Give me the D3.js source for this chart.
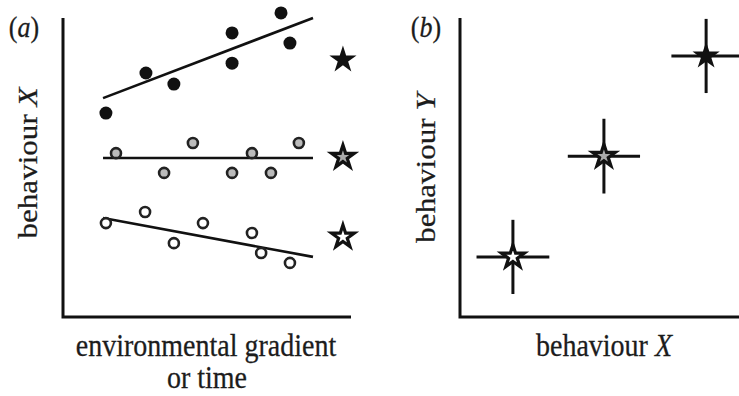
<!DOCTYPE html>
<html>
<head>
<meta charset="utf-8">
<script src="https://cdn.jsdelivr.net/npm/d3@7"></script>
<style>
  body { margin: 0; background: #fff; }
  text { font-family: "Liberation Serif", "Times New Roman", serif; fill: #1c1c1c; stroke: #1c1c1c; stroke-width: 0.25px; }
</style>
</head>
<body>
<script>
const width = 739, height = 396;

// panel (a): three groups of individuals along a gradient
const filledPts = [[14.9, 68.2], [28.8, 81.6], [38.5, 77.9], [58.7, 95.0], [58.7, 84.9], [75.7, 101.7], [78.8, 91.6]];
const greyPts   = [[18.4, 54.8], [45.1, 58.2], [35.1, 48.2], [58.7, 48.2], [65.6, 54.8], [72.2, 48.2], [81.9, 58.2]];
const openPts   = [[14.9, 31.4], [28.5, 35.1], [38.5, 24.7], [48.6, 31.4], [65.6, 28.1], [68.8, 21.4], [78.8, 18.1]];
// trend lines [x0, y0, x1, y1]
const trendLines = [[13.9, 73.2, 86.8, 100], [13.9, 53.2, 86.8, 53.2], [13.9, 33.1, 86.8, 20.1]];
const groupStars = [[97.2, 86, "filled"], [97.2, 53.5, "grey"], [97.2, 26.8, "open"]];

// panel (b): group means with error bars
const meanX = [18.9, 51.4, 87.9];
const meanY = [20.1, 53.8, 87.3];
const errX  = [13, 12.9, 12.4];
const errY  = [12.4, 12.5, 12.4];
const meanKind = ["open", "grey", "filled"];

const fills = { filled: "#111", grey: "#aaa", open: "#fff" };
const stretch = 1.11; // text in the figure is a little taller than wide

const svg = d3.select("body").append("svg")
  .attr("width", width)
  .attr("height", height);

const yScale = d3.scaleLinear().domain([0, 100]).range([317, 18]);
const xA = d3.scaleLinear().domain([0, 100]).range([63, 351]);
const xB = d3.scaleLinear().domain([0, 100]).range([460, 740]);

const star = d3.symbol().type(d3.symbolStar);

// axes as plain L shapes
function axisL(x0, x1) {
  svg.append("path")
    .attr("d", `M${x0},${yScale(100)}V${yScale(0)}H${x1}`)
    .attr("fill", "none")
    .attr("stroke", "#111")
    .attr("stroke-width", 3);
}
axisL(xA(0), xA(100));
axisL(xB(0), xB(100));

// ---- panel a
const ga = svg.append("g");

ga.selectAll("line.trend")
  .data(trendLines)
  .join("line")
  .attr("class", "trend")
  .attr("x1", d => xA(d[0])).attr("y1", d => yScale(d[1]))
  .attr("x2", d => xA(d[2])).attr("y2", d => yScale(d[3]))
  .attr("stroke", "#111")
  .attr("stroke-width", 2.6);

ga.selectAll("circle.filled")
  .data(filledPts)
  .join("circle")
  .attr("class", "filled")
  .attr("cx", d => xA(d[0])).attr("cy", d => yScale(d[1]))
  .attr("r", 6.5)
  .attr("fill", "#111");

ga.selectAll("circle.grey")
  .data(greyPts)
  .join("circle")
  .attr("class", "grey")
  .attr("cx", d => xA(d[0])).attr("cy", d => yScale(d[1]))
  .attr("r", 5)
  .attr("fill", "#bbb")
  .attr("stroke", "#222")
  .attr("stroke-width", 2.6);

ga.selectAll("circle.open")
  .data(openPts)
  .join("circle")
  .attr("class", "open")
  .attr("cx", d => xA(d[0])).attr("cy", d => yScale(d[1]))
  .attr("r", 5)
  .attr("fill", "#fff")
  .attr("stroke", "#222")
  .attr("stroke-width", 2.6);

ga.selectAll("path.star")
  .data(groupStars)
  .join("path")
  .attr("class", "star")
  .attr("transform", d => `translate(${xA(d[0])},${yScale(d[1])})`)
  .attr("d", d => star.size(d[2] == "filled" ? 230 : 160)())
  .attr("fill", d => fills[d[2]])
  .attr("stroke", "#111")
  .attr("stroke-width", d => d[2] == "filled" ? 0 : 3.2);

// ---- panel b
const gb = svg.append("g");
const means = meanX.map((x, i) => ({ x, y: meanY[i], ex: errX[i], ey: errY[i], kind: meanKind[i] }));

gb.selectAll("line.ex")
  .data(means)
  .join("line")
  .attr("x1", d => xB(d.x - d.ex)).attr("x2", d => xB(d.x + d.ex))
  .attr("y1", d => yScale(d.y)).attr("y2", d => yScale(d.y))
  .attr("stroke", "#111").attr("stroke-width", 3);

gb.selectAll("line.ey")
  .data(means)
  .join("line")
  .attr("x1", d => xB(d.x)).attr("x2", d => xB(d.x))
  .attr("y1", d => yScale(d.y - d.ey)).attr("y2", d => yScale(d.y + d.ey))
  .attr("stroke", "#111").attr("stroke-width", 3);

gb.selectAll("path.star")
  .data(means)
  .join("path")
  .attr("transform", d => `translate(${xB(d.x)},${yScale(d.y)})`)
  .attr("d", d => star.size(d.kind == "filled" ? 230 : 160)())
  .attr("fill", d => fills[d.kind])
  .attr("stroke", "#111")
  .attr("stroke-width", d => d.kind == "filled" ? 0 : 3.2);

// ---- text
function hText(x, y, size) {
  return svg.append("text")
    .attr("transform", `translate(${x},${y}) scale(1,${stretch})`)
    .attr("text-anchor", "middle")
    .style("font-size", size + "px");
}

function panelTag(x, letter) {
  const t = hText(x, 37, 26);
  t.append("tspan").text("(");
  t.append("tspan").style("font-style", "italic").text(letter);
  t.append("tspan").text(")");
}
panelTag(24, "a");
panelTag(426, "b");

function yTitle(x, y, letter) {
  const t = svg.append("text")
    .attr("transform", `translate(${x},${y}) rotate(-90) scale(${stretch},1)`)
    .attr("text-anchor", "middle")
    .style("font-size", "28px");
  t.append("tspan").text("behaviour ");
  t.append("tspan").style("font-style", "italic").text(letter);
}
yTitle(37, 163, "X");
yTitle(435, 168, "Y");

hText(206, 356, 28).text("environmental gradient");
hText(207, 388, 28).text("or time");

const bx = hText(604, 356, 28);
bx.append("tspan").text("behaviour ");
bx.append("tspan").style("font-style", "italic").text("X");
</script>
</body>
</html>
